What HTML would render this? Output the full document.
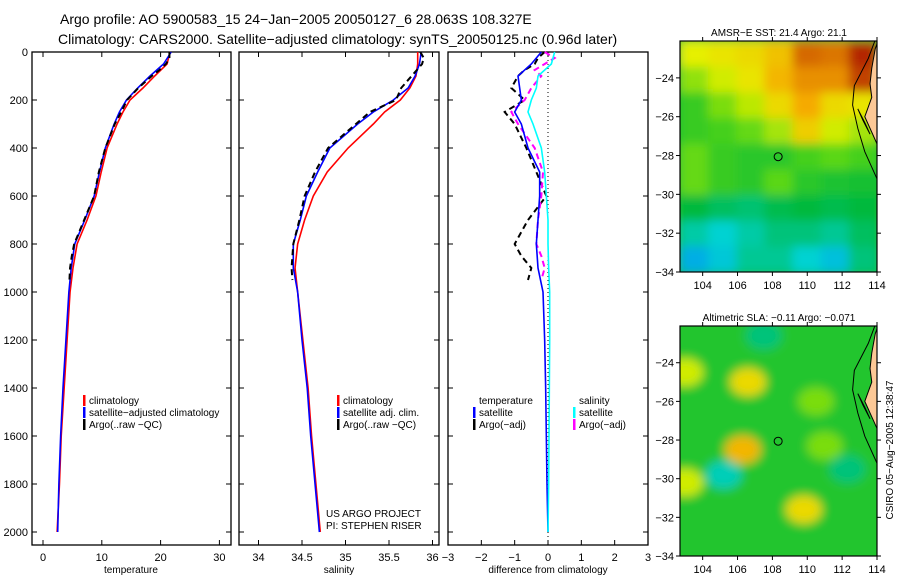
<!DOCTYPE html>
<html><head><meta charset="utf-8">
<style>
body{margin:0;background:#fff;}
svg{display:block;font-family:"Liberation Sans",sans-serif;}
</style></head>
<body>
<svg id="c" width="900" height="580" xmlns="http://www.w3.org/2000/svg">
<defs><filter id="bl" x="-20%" y="-20%" width="140%" height="140%"><feGaussianBlur stdDeviation="5"/></filter>
<clipPath id="cm1"><rect x="680" y="41" width="197" height="231"/></clipPath>
<clipPath id="cm2"><rect x="680" y="326" width="197" height="230"/></clipPath></defs>
<text x="60" y="24" font-size="14">Argo profile: AO 5900583_15 24−Jan−2005 20050127_6 28.063S 108.327E</text>
<text x="58" y="44" font-size="14">Climatology: CARS2000. Satellite−adjusted climatology: synTS_20050125.nc (0.96d later)</text>
<g id="g"></g>
</svg>
<script>
// depths (m)
const depths=[0,50,100,150,200,250,300,400,500,600,700,800,900,1000,1200,1400,1600,1800,2000];
const tempClim=[21.6,21.1,19.0,17.0,14.8,13.6,12.6,10.9,9.9,9.0,7.5,5.8,5.1,4.6,4.1,3.6,3.1,2.8,2.4];
const tempSat=[21.8,20.5,18.2,16.1,14.2,13.0,12.1,10.6,9.6,8.7,7.1,5.4,4.8,4.4,3.9,3.4,3.0,2.7,2.5];
const argoDepths=[0,25,50,75,100,150,200,250,300,400,500,600,700,800,850,900,950];
const tempArgo=[21.5,21.5,20.9,19.8,18.5,16.2,14.3,13.3,12.2,10.6,9.5,8.7,7.0,5.3,4.9,4.6,4.5];
const salClim=[35.83,35.83,35.81,35.74,35.63,35.45,35.32,35.03,34.79,34.63,34.53,34.45,34.42,34.45,34.51,34.57,34.61,34.66,34.71];
const salSat=[35.87,35.85,35.80,35.72,35.55,35.32,35.14,34.82,34.68,34.55,34.48,34.40,34.40,34.45,34.50,34.56,34.60,34.65,34.70];
const salArgo=[35.86,35.9,35.88,35.82,35.76,35.64,35.58,35.28,35.12,34.80,34.65,34.53,34.47,34.40,34.39,34.38,34.39];
const dTempSat=[-0.2,-0.5,-0.9,-0.85,-0.8,-1.0,-0.8,-0.6,-0.25,-0.25,-0.3,-0.35,-0.3,-0.15,-0.1,-0.07,-0.05,-0.03,0.0];
const dSalSat=[0.2,0.1,-0.3,-0.35,-0.5,-0.6,-0.45,-0.2,-0.1,-0.05,0.0,0.0,0.02,0.05,0.05,0.04,0.03,0.02,0.0];
const dTempArgo=[-0.1,-0.3,-0.4,-0.7,-0.9,-1.1,-0.7,-1.3,-1.0,-0.65,-0.35,-0.05,-0.6,-1.0,-0.8,-0.5,-0.6];
const dSalArgo=[-0.1,0.2,-0.1,-0.4,-0.2,-0.5,-0.7,-1.1,-0.9,-0.4,-0.15,-0.2,-0.3,-0.35,-0.2,-0.1,-0.2];
const tempTicks=[0,10,20,30], salTicks=[34,34.5,35,35.5,36], diffTicks=[-3,-2,-1,0,1,2,3];
const depthTicks=[0,200,400,600,800,1000,1200,1400,1600,1800,2000];
const mapLon=[104,106,108,110,112,114], mapLat=[-24,-26,-28,-30,-32,-34];
// SST map grid (normalized colour 0..1), rows top->bottom
const sstGrid=[
[.68,.7,.72,.76,.85,.84,.9],
[.6,.66,.7,.78,.82,.82,.88],
[.5,.58,.64,.72,.8,.72,.7],
[.5,.52,.56,.62,.74,.66,.62],
[.56,.5,.48,.48,.52,.55,.52],
[.56,.5,.48,.55,.48,.46,.45],
[.42,.38,.36,.4,.42,.4,.42],
[.3,.25,.3,.35,.35,.32,.38],
[.15,.22,.32,.32,.25,.2,.35]];
// SLA anomaly blobs: lon, lat, value
const slaLon=[106.6,106.3,109.8,103.0,103.0,105.2,107.5,110.5,112.3,111.0];
const slaLat=[-25.0,-28.5,-31.6,-24.5,-30.2,-29.8,-22.6,-26.0,-29.5,-28.3];
const slaVal=[.72,.78,.72,.66,.66,.28,.35,.58,.35,.58];

const NS="http://www.w3.org/2000/svg", G=document.getElementById('g');
function el(t,a,p){const e=document.createElementNS(NS,t);for(const k in a)e.setAttribute(k,a[k]);(p||G).appendChild(e);return e;}
function txt(x,y,s,fs,anch,p){const e=el('text',{x:x,y:y,'font-size':fs,'text-anchor':anch||'start'},p);e.textContent=s;return e;}
const Y0=52, YS=(532-52)/2000;
const yD=d=>Y0+d*YS;
const xT=v=>43+v*5.88, xS=v=>258.5+(v-34)*87, xD=v=>548+v*(100/3);

function frame(x0,x1,name,ticks,xf,lab,lp){
  const g=el('g',{});
  
  
  el('rect',{x:x0,y:52,width:x1-x0,height:493,fill:'none',stroke:'#000','stroke-width':1.3},g);
  depthTicks.forEach(d=>{el('line',{x1:x0,x2:x0+5,y1:yD(d),y2:yD(d),stroke:'#000'},g);el('line',{x1:x1,x2:x1-5,y1:yD(d),y2:yD(d),stroke:'#000'},g);});
  ticks.forEach(t=>{const x=xf(t);el('line',{x1:x,x2:x,y1:545,y2:540,stroke:'#000'},g);el('line',{x1:x,x2:x,y1:52,y2:57,stroke:'#000'},g);
    txt(x,561,String(t).replace('-','−'),11,'middle',g);});
  const l=txt(lp,573,lab,10,'middle',g);
  
  
  return g;
}
const ya=el('g',{});


depthTicks.forEach(d=>txt(28,yD(d)+4,String(d),11,'end',ya));

frame(32,231,'temperature-panel',tempTicks,xT,'temperature',131);
frame(239,439,'salinity-panel',salTicks,xS,'salinity',339);
frame(448,648,'difference-panel',diffTicks,xD,'difference from climatology',548);
el('line',{x1:548,x2:548,y1:52,y2:545,stroke:'#000','stroke-dasharray':'1,3'});

function line(ds,vs,xf,col,name,dash,w){
  const p=el('polyline',{points:ds.map((d,i)=>xf(vs[i])+','+yD(d)).join(' '),fill:'none',stroke:col,'stroke-width':w||1.6,'stroke-dasharray':dash||'none'});
  
  
}
line(depths,tempClim,xT,'#f00','temp-climatology-line');
line(depths,tempSat,xT,'#00f','temp-satellite-line');
line(argoDepths,tempArgo,xT,'#000','temp-argo-line','6,4',2);
line(depths,salClim,xS,'#f00','sal-climatology-line');
line(depths,salSat,xS,'#00f','sal-satellite-line');
line(argoDepths,salArgo,xS,'#000','sal-argo-line','6,4',2);
line(argoDepths,dTempArgo,xD,'#000','diff-temp-argo-line','6,4',2);
line(argoDepths,dSalArgo,xD,'#f0f','diff-sal-argo-line','6,4',2);
line(depths,dTempSat,xD,'#00f','diff-temp-satellite-line');
line(depths,dSalSat,xD,'#0ff','diff-sal-satellite-line');

function legend(x,y,items,name){
  const g=el('g',{});
  
  
  items.forEach((it,i)=>{const yy=y+i*12;
    if(it[1])el('rect',{x:x,y:yy-9,width:2.5,height:11,fill:it[1]},g);
    txt(x+6,yy,it[0],10,'start',g);});
}
legend(83,404,[['climatology','#f00'],['satellite−adjusted climatology','#00f'],['Argo(..raw −QC)','#000']],'temp-legend');
legend(337,404,[['climatology','#f00'],['satellite adj. clim.','#00f'],['Argo(..raw −QC)','#000']],'sal-legend');
legend(473,404,[['temperature',null],['satellite','#00f'],['Argo(−adj)','#000']],'diff-temp-legend');
legend(573,404,[['salinity',null],['satellite','#0ff'],['Argo(−adj)','#f0f']],'diff-sal-legend');
txt(326,517,'US ARGO PROJECT',10);
txt(326,529,'PI: STEPHEN RISER',10);

function cmap(v){const st=[[0,[0,120,255]],[.25,[0,210,210]],[.42,[0,185,60]],[.55,[90,215,20]],[.68,[230,240,0]],[.8,[245,170,0]],[.9,[180,40,0]]];
  for(let i=1;i<st.length;i++)if(v<=st[i][0]){const a=st[i-1],b=st[i],t=(v-a[0])/(b[0]-a[0]);return 'rgb('+a[1].map((c,k)=>Math.round(c+(b[1][k]-c)*t)).join(',')+')';}
  return 'rgb(180,40,0)';}
const lonX=l=>680+(l-102.7)*(197/11.3);
function mapAxes(y0,h,name,title){
  const latY=la=>y0+(-22.1-la)*(h/11.9);
  const g=el('g',{});
  
  
  el('rect',{x:680,y:y0,width:197,height:h,fill:'none',stroke:'#000','stroke-width':1.2},g);
  mapLon.forEach(l=>{const x=lonX(l);el('line',{x1:x,x2:x,y1:y0+h,y2:y0+h+4,stroke:'#000'},g);el('line',{x1:x,x2:x,y1:y0,y2:y0-4,stroke:'#000'},g);txt(x,y0+h+17,String(l),11,'middle',g);});
  mapLat.forEach(la=>{const y=latY(la);el('line',{x1:680,x2:676,y1:y,y2:y,stroke:'#000'},g);el('line',{x1:877,x2:881,y1:y,y2:y,stroke:'#000'},g);txt(674,y+4,String(la).replace('-','−'),11,'end',g);});
  txt(779,y0-5,title,10,'middle',g);
  return latY;
}
function coast(y0,h,clip){
  const latY=la=>y0+(-22.1-la)*(h/11.9);
  const g=el('g',{'clip-path':'url(#'+clip+')'});
  
  
  const pts=[[114.3,-21.5],[113.9,-22.5],[113.7,-23.5],[113.6,-24.3],[113.7,-25.0],[113.3,-26.0],[113.6,-26.6],[114.1,-27.6],[114.2,-28],[115,-28],[115,-21.5]];
  el('polygon',{points:pts.map(p=>lonX(p[0])+','+latY(p[1])).join(' '),fill:'#fcc896',stroke:'#000'},g);
  const iso=[[114,-21.8],[113.5,-23.0],[112.7,-24.4],[112.6,-25.4],[112.9,-26.6],[113.3,-27.8],[114.1,-29.4]];
  el('polyline',{points:iso.map(p=>lonX(p[0])+','+latY(p[1])).join(' '),fill:'none',stroke:'#000'},g);
  el('polyline',{points:[[112.9,-25.6],[113.3,-26.3],[113.6,-26.9],[113.2,-26.2],[112.9,-25.6]].map(p=>lonX(p[0])+','+latY(p[1])).join(' '),fill:'#000',stroke:'#000'},g);
}
// SST map
const sm=el('g',{'clip-path':'url(#cm1)'});


const cw=197/sstGrid[0].length, ch=231/sstGrid.length;
const smb=el('g',{filter:'url(#bl)'},sm);
el('rect',{x:670,y:30,width:220,height:260,fill:cmap(.45)},smb);
sstGrid.forEach((r,i)=>r.forEach((v,j)=>el('rect',{x:680+j*cw,y:41+i*ch,width:cw+1,height:ch+1,fill:cmap(v)},smb)));
coast(41,231,'cm1');
const latY1=mapAxes(41,231,'sst-map','AMSR−E SST: 21.4 Argo: 21.1');
el('circle',{cx:lonX(108.33),cy:latY1(-28.06),r:4,fill:'none',stroke:'#000'});
// SLA map
const lm=el('g',{'clip-path':'url(#cm2)'});


const lmb=el('g',{filter:'url(#bl)'},lm);
el('rect',{x:670,y:316,width:220,height:250,fill:cmap(.47)},lmb);
const latY2=la=>326+(-22.1-la)*(230/11.9);
slaLon.forEach((l,i)=>el('ellipse',{cx:lonX(l),cy:latY2(slaLat[i]),rx:18,ry:14,fill:cmap(slaVal[i])},lmb));
coast(326,230,'cm2');
mapAxes(326,230,'sla-map','Altimetric SLA: −0.11 Argo: −0.071');
el('circle',{cx:lonX(108.33),cy:latY2(-28.06),r:4,fill:'none',stroke:'#000'});
const cs=txt(0,0,'CSIRO 05−Aug−2005 12:38:47',10,'middle');
cs.setAttribute('transform','translate(893,450) rotate(-90)');


</script>
</body></html>
